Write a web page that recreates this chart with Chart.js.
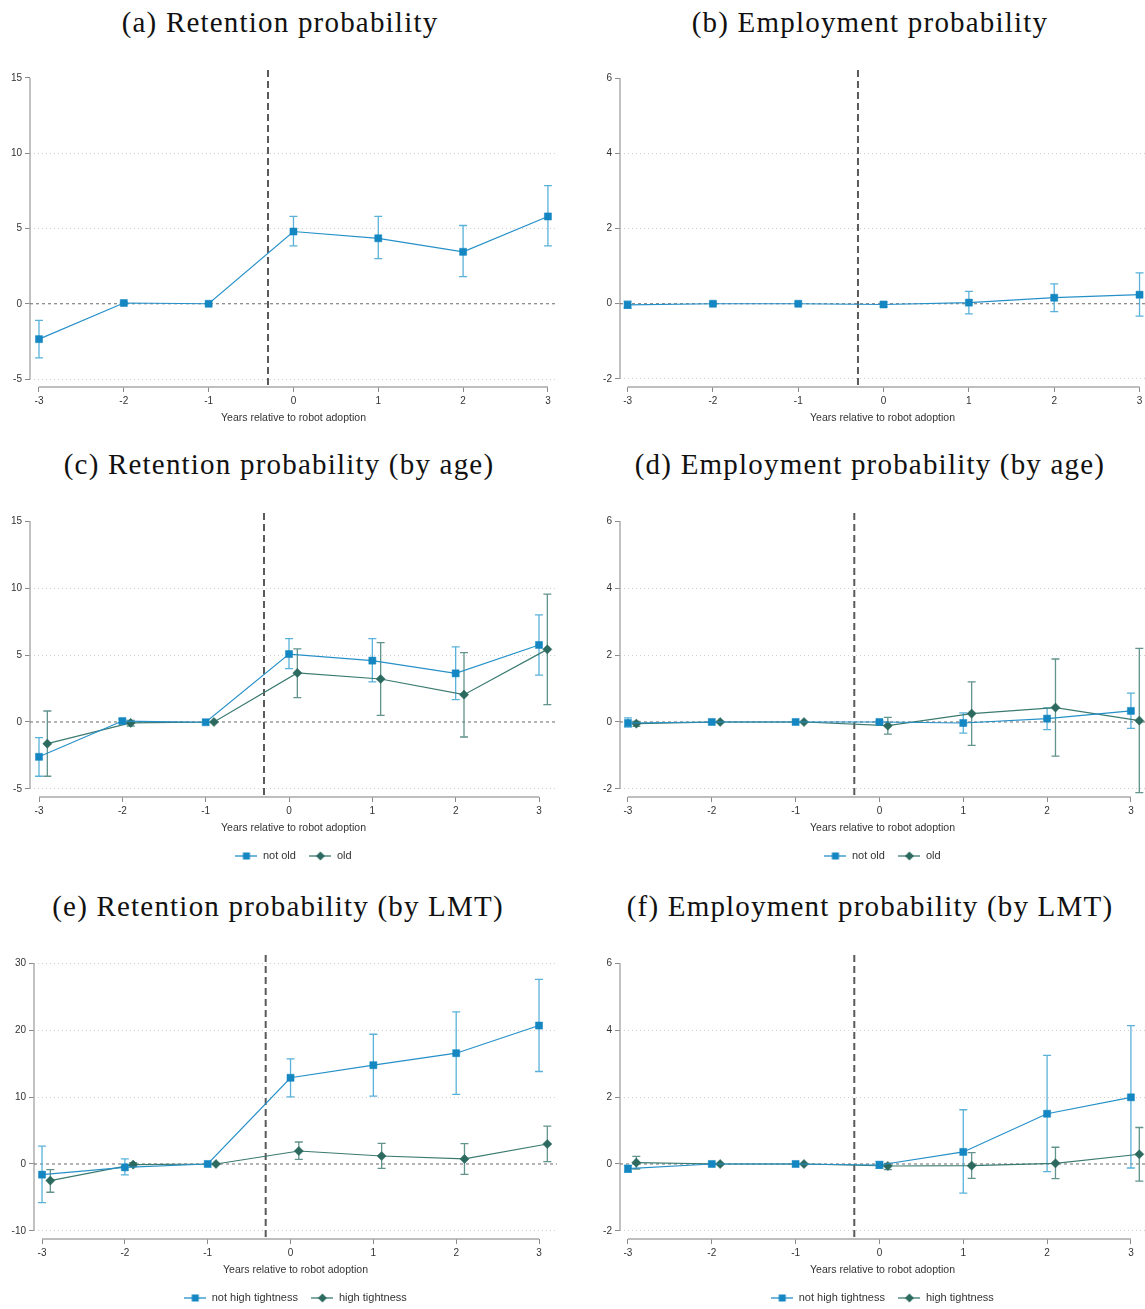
<!DOCTYPE html>
<html>
<head>
<meta charset="utf-8">
<script src="https://cdn.jsdelivr.net/npm/chart.js@4.4.1/dist/chart.umd.min.js"></script>
<style>
  html, body { margin: 0; padding: 0; background: #fff; width: 1145px; height: 1309px; overflow: hidden; position: relative; }
  canvas { position: absolute; }
  .title { position: absolute; width: 572px; height: 36px; line-height: 36px; text-align: center;
           font-family: "Liberation Serif", serif; font-size: 29px; letter-spacing: 1.2px; color: #111; white-space: nowrap; }
</style>
</head>
<body>
<div class="title" style="left:-6px;top:4px">(a) Retention probability</div>
<div class="title" style="left:584px;top:4px">(b) Employment probability</div>
<div class="title" style="left:-7px;top:446px">(c) Retention probability (by age)</div>
<div class="title" style="left:584px;top:446px">(d) Employment probability (by age)</div>
<div class="title" style="left:-8px;top:888px">(e) Retention probability (by LMT)</div>
<div class="title" style="left:584px;top:888px">(f) Employment probability (by LMT)</div>

<canvas id="panelA" width="572" height="392" style="left:0;top:50px"></canvas>
<canvas id="panelB" width="585" height="392" style="left:572px;top:50px"></canvas>
<canvas id="panelC" width="572" height="392" style="left:0;top:492px"></canvas>
<canvas id="panelD" width="585" height="392" style="left:572px;top:492px"></canvas>
<canvas id="panelE" width="572" height="392" style="left:0;top:934px"></canvas>
<canvas id="panelF" width="585" height="392" style="left:572px;top:934px"></canvas>

<script>
// event time
const years = [-3, -2, -1, 0, 1, 2, 3];
const adoptionLine = -0.3;
const dodge = 0.1;

// y tick labels
const retTicks = [-5, 0, 5, 10, 15];
const empTicks = [-2, 0, 2, 4, 6];
const lmtTicks = [-10, 0, 10, 20, 30];

// (a) retention probability
const retEst = [-2.35, 0.05, 0, 4.8, 4.35, 3.45, 5.8];
const retLo  = [-3.6, 0.0, 0, 3.85, 3.0, 1.8, 3.85];
const retHi  = [-1.1, 0.1, 0, 5.8, 5.8, 5.2, 7.85];

// (b) employment probability
const empEst = [-0.03, 0, 0, -0.02, 0.03, 0.16, 0.24];
const empLo  = [-0.12, -0.02, 0, -0.08, -0.27, -0.21, -0.33];
const empHi  = [0.07, 0.02, 0, 0.04, 0.33, 0.53, 0.82];

// (c) retention by age
const retNotOldEst = [-2.6, 0.07, -0.02, 5.07, 4.58, 3.63, 5.75];
const retNotOldLo  = [-4.05, -0.05, -0.02, 3.98, 2.99, 1.67, 3.5];
const retNotOldHi  = [-1.17, 0.2, -0.02, 6.22, 6.22, 5.6, 8.0];
const retOldEst = [-1.62, -0.07, 0, 3.66, 3.21, 2.04, 5.42];
const retOldLo  = [-4.05, -0.3, 0, 1.82, 0.5, -1.12, 1.29];
const retOldHi  = [0.82, 0.12, 0, 5.45, 5.92, 5.17, 9.55];

// (d) employment by age
const empNotOldEst = [-0.03, 0, 0, 0, -0.03, 0.1, 0.33];
const empNotOldLo  = [-0.15, -0.02, 0, -0.03, -0.33, -0.23, -0.19];
const empNotOldHi  = [0.12, 0.02, 0, 0.03, 0.27, 0.42, 0.86];
const empOldEst = [-0.05, 0, 0, -0.11, 0.25, 0.43, 0.04];
const empOldLo  = [-0.13, -0.02, 0, -0.36, -0.7, -1.02, -2.11];
const empOldHi  = [0.02, 0.02, 0, 0.14, 1.2, 1.88, 2.2];

// (e) retention by labour market tightness
const retLowEst = [-1.59, -0.5, 0, 12.87, 14.75, 16.54, 20.67];
const retLowLo  = [-5.76, -1.64, 0, 10.03, 10.13, 10.38, 13.81];
const retLowHi  = [2.68, 0.75, 0, 15.7, 19.37, 22.7, 27.57];
const retHighEst = [-2.48, -0.1, 0, 1.94, 1.19, 0.75, 2.98];
const retHighLo  = [-4.22, -0.4, 0, 0.7, -0.65, -1.54, 0.35];
const retHighHi  = [-0.84, 0.2, 0, 3.28, 3.08, 3.03, 5.66];

// (f) employment by labour market tightness
const empLowEst = [-0.14, 0, 0, -0.03, 0.36, 1.5, 1.99];
const empLowLo  = [-0.25, -0.02, 0, -0.13, -0.87, -0.23, -0.12];
const empLowHi  = [-0.04, 0.02, 0, 0.08, 1.62, 3.24, 4.13];
const empHighEst = [0.04, 0, 0, -0.06, -0.05, 0.02, 0.29];
const empHighLo  = [-0.15, -0.02, 0, -0.17, -0.43, -0.44, -0.51];
const empHighHi  = [0.23, 0.02, 0, 0.02, 0.34, 0.5, 1.09];

const styles = {
  blue:  { line: "#2590c8", marker: "#1486c1", ci: "#5ab2da", shape: "rect", radius: 5 },
  green: { line: "#3a7a70", marker: "#2c6a60", ci: "#62938c", shape: "rectRot", radius: 4.6 }
};

const sansFont = "'Liberation Sans', Arial, sans-serif";

// small line+marker picture for the legend entries
function legendIcon(kind) {
  const st = styles[kind];
  const c = document.createElement("canvas");
  c.width = 22; c.height = 10;
  const g = c.getContext("2d");
  g.strokeStyle = st.line; g.lineWidth = 1.3;
  g.beginPath(); g.moveTo(0, 5); g.lineTo(22, 5); g.stroke();
  g.fillStyle = st.marker;
  if (kind === "blue") {
    g.fillRect(7.5, 1.5, 7, 7);
  } else {
    g.beginPath(); g.moveTo(11, 0.5); g.lineTo(15.5, 5); g.lineTo(11, 9.5); g.lineTo(6.5, 5); g.closePath(); g.fill();
  }
  return c;
}

// reference lines, axis lines and confidence bars
const refLines = {
  id: "refLines",
  beforeDatasetsDraw(chart, args, opts) {
    const { ctx, chartArea: a, scales: { x, y } } = chart;
    ctx.save();
    // axis lines only span the labelled range
    ctx.strokeStyle = "#a9a9a9"; ctx.lineWidth = 1.4;
    ctx.beginPath();
    ctx.moveTo(a.left, y.getPixelForValue(opts.yTicks[0]));
    ctx.lineTo(a.left, y.getPixelForValue(opts.yTicks[opts.yTicks.length - 1]));
    ctx.moveTo(x.getPixelForValue(years[0]), a.bottom);
    ctx.lineTo(x.getPixelForValue(years[years.length - 1]), a.bottom);
    ctx.stroke();
    // zero line
    const y0 = y.getPixelForValue(0);
    ctx.strokeStyle = "#6a6a6a"; ctx.lineWidth = 1; ctx.setLineDash([3, 3]);
    ctx.beginPath(); ctx.moveTo(a.left, y0); ctx.lineTo(a.right, y0); ctx.stroke();
    // adoption line
    const xv = x.getPixelForValue(adoptionLine);
    ctx.strokeStyle = "#5a5a5a"; ctx.lineWidth = 2; ctx.setLineDash([7, 4]);
    ctx.beginPath(); ctx.moveTo(xv, a.top); ctx.lineTo(xv, a.bottom); ctx.stroke();
    // confidence intervals
    ctx.setLineDash([]);
    chart.data.datasets.forEach(ds => {
      ctx.strokeStyle = ds.ciColor; ctx.lineWidth = 1.3;
      ds.data.forEach((p, i) => {
        const px = x.getPixelForValue(p.x);
        const top = y.getPixelForValue(ds.hi[i]);
        const bot = y.getPixelForValue(ds.lo[i]);
        if (Math.abs(bot - top) < 1) return;
        ctx.beginPath();
        ctx.moveTo(px, top); ctx.lineTo(px, bot);
        ctx.moveTo(px - 4, top); ctx.lineTo(px + 4, top);
        ctx.moveTo(px - 4, bot); ctx.lineTo(px + 4, bot);
        ctx.stroke();
      });
    });
    ctx.restore();
  }
};

function makeSeries(label, kind, est, lo, hi, dx) {
  const st = styles[kind];
  return {
    label: label,
    data: years.map((yr, i) => ({ x: yr + dx, y: est[i] })),
    lo: lo, hi: hi, ciColor: st.ci, kind: kind,
    borderColor: st.line, borderWidth: 1.2,
    pointStyle: st.shape, pointRadius: st.radius,
    pointBackgroundColor: st.marker, pointBorderColor: st.marker, pointBorderWidth: 0.5,
    tension: 0, fill: false
  };
}

function makePanel(id, p) {
  const legendRow = p.legend;
  new Chart(document.getElementById(id), {
    type: "line",
    data: { datasets: p.series },
    options: {
      responsive: false,
      animation: false,
      layout: { padding: { top: legendRow ? 21 : 20, bottom: legendRow ? 12.5 : 15, left: 0, right: p.right } },
      plugins: {
        refLines: { yTicks: p.yTicks },
        tooltip: { enabled: false },
        legend: {
          display: legendRow,
          position: "bottom",
          fullSize: false,
          labels: {
            usePointStyle: true,
            pointStyleWidth: 22,
            padding: 13.5,
            color: "#333",
            font: { family: sansFont, size: 11 },
            generateLabels: chart => chart.data.datasets.map((ds, i) => ({
              text: ds.label, pointStyle: legendIcon(ds.kind), datasetIndex: i,
              hidden: false, lineWidth: 0, fillStyle: ds.borderColor, strokeStyle: ds.borderColor, fontColor: "#333"
            }))
          }
        }
      },
      scales: {
        x: {
          type: "linear", min: p.xMin, max: p.xMax,
          afterBuildTicks: s => { s.ticks = years.map(v => ({ value: v })); },
          afterFit: s => { s.height = 40; },
          grid: { drawOnChartArea: false, drawTicks: true, tickLength: 5, tickColor: "#8a8a8a" },
          border: { display: false },
          ticks: { autoSkip: false, maxRotation: 0, padding: 3, color: "#333", font: { family: sansFont, size: 10 } },
          title: { display: true, text: "Years relative to robot adoption", color: "#333",
                   padding: { top: 0, bottom: 3 }, font: { family: sansFont, size: 10.5 } }
        },
        y: {
          type: "linear", min: p.yMin, max: p.yMax,
          afterBuildTicks: s => { s.ticks = p.yTicks.map(v => ({ value: v })); },
          afterFit: s => { s.width = p.yw; },
          grid: {
            drawTicks: true, tickLength: 5, tickColor: "#8a8a8a", lineWidth: 1,
            color: c => {
              const v = c.tick ? c.tick.value : null;
              if (v === 0) return "rgba(0,0,0,0)";
              if (!p.gridTop && v === p.yTicks[p.yTicks.length - 1]) return "rgba(0,0,0,0)";
              return "#cfcfcf";
            }
          },
          border: { display: false, dash: [1, 3] },
          ticks: { padding: 3, color: "#333", font: { family: sansFont, size: 10 } }
        }
      }
    },
    plugins: [refLines]
  });
}

makePanel("panelA", {
  yTicks: retTicks, yMin: -5.53, yMax: 15.53, xMin: -3.106, xMax: 3.107, yw: 30, right: 15,
  legend: false, gridTop: false,
  series: [makeSeries("", "blue", retEst, retLo, retHi, 0)]
});
makePanel("panelB", {
  yTicks: empTicks, yMin: -2.213, yMax: 6.213, xMin: -3.089, xMax: 3.064, yw: 48, right: 12,
  legend: false, gridTop: false,
  series: [makeSeries("", "blue", empEst, empLo, empHi, 0)]
});
makePanel("panelC", {
  yTicks: retTicks, yMin: -5.6, yMax: 15.6, xMin: -3.108, xMax: 3.216, yw: 30, right: 15,
  legend: true, gridTop: false,
  series: [
    makeSeries("not old", "blue", retNotOldEst, retNotOldLo, retNotOldHi, 0),
    makeSeries("old", "green", retOldEst, retOldLo, retOldHi, dodge)
  ]
});
makePanel("panelD", {
  yTicks: empTicks, yMin: -2.24, yMax: 6.24, xMin: -3.095, xMax: 3.168, yw: 48, right: 12,
  legend: true, gridTop: false,
  series: [
    makeSeries("not old", "blue", empNotOldEst, empNotOldLo, empNotOldHi, 0),
    makeSeries("old", "green", empOldEst, empOldLo, empOldHi, dodge)
  ]
});
makePanel("panelE", {
  yTicks: lmtTicks, yMin: -11.2, yMax: 31.2, xMin: -3.097, xMax: 3.217, yw: 34, right: 15,
  legend: true, gridTop: true,
  series: [
    makeSeries("not high tightness", "blue", retLowEst, retLowLo, retLowHi, 0),
    makeSeries("high tightness", "green", retHighEst, retHighLo, retHighHi, dodge)
  ]
});
makePanel("panelF", {
  yTicks: empTicks, yMin: -2.24, yMax: 6.24, xMin: -3.095, xMax: 3.168, yw: 48, right: 12,
  legend: true, gridTop: false,
  series: [
    makeSeries("not high tightness", "blue", empLowEst, empLowLo, empLowHi, 0),
    makeSeries("high tightness", "green", empHighEst, empHighLo, empHighHi, dodge)
  ]
});
</script>
</body>
</html>
